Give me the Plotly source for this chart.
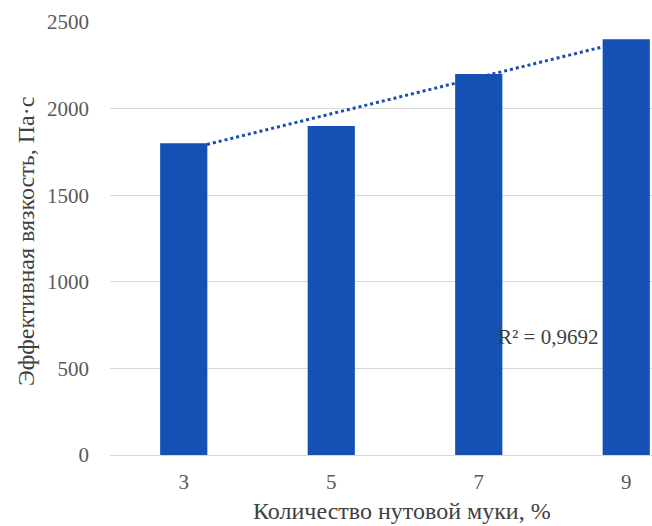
import plotly.graph_objects as go
import numpy as np

categories = ["3", "5", "7", "9"]
values = [1800, 1900, 2200, 2400]
y_ticks = [0, 500, 1000, 1500, 2000, 2500]
x_title = "Количество нутовой муки, %"
y_title = "Эффективная вязкость, Па·с"

xpos = list(range(len(categories)))
# linear trendline (Excel-style, on category positions)
xi = np.arange(1, len(values) + 1)
slope, intercept = np.polyfit(xi, values, 1)
fit = slope * xi + intercept
r2 = 1 - np.sum((np.array(values) - fit) ** 2) / np.sum((np.array(values) - np.mean(values)) ** 2)

font_family = "Liberation Serif"

W, H = 652, 526
L, T = 110, 22
ph = 433
B = H - T - ph
R = 0
pw = W - L - R

def px_to_paper(xp, yp):
    return (xp - L) / pw, (H - B - yp) / ph

fig = go.Figure()
fig.add_trace(go.Bar(x=xpos, y=values, width=0.32, marker_color="#1550b4",
                     marker_line_width=0, showlegend=False))
fig.add_trace(go.Scatter(x=xpos, y=fit, mode="lines",
                         line=dict(color="#1a4fb0", width=3, dash="dot"),
                         showlegend=False))
fig.add_annotation(x=2.47, y=680, xref="x", yref="y", xanchor="center", yanchor="middle",
                   text="R² = " + f"{r2:.4f}".replace(".", ","),
                   showarrow=False, font=dict(family=font_family, size=21, color="#404040"))
yx, yy = px_to_paper(26, 242)
fig.add_annotation(x=yx, y=yy, xref="paper", yref="paper", text=y_title,
                   xanchor="center", yanchor="middle",
                   showarrow=False, textangle=-90,
                   font=dict(family=font_family, size=24, color="#404040"))
xx, xy = px_to_paper(402, 511)
fig.add_annotation(x=xx, y=xy, xref="paper", yref="paper", text=x_title, showarrow=False,
                   xanchor="center", yanchor="middle",
                   font=dict(family=font_family, size=24, color="#404040"))

fig.update_layout(
    width=W, height=H,
    margin=dict(l=L, r=R, t=T, b=B),
    paper_bgcolor="white", plot_bgcolor="white",
    font=dict(family=font_family, color="#595959"),
)
fig.update_xaxes(range=[-0.5, pw / 147.5 - 0.5], tickvals=xpos, ticktext=categories,
                 showgrid=False, showline=False, zeroline=False, automargin=False,
                 tickfont=dict(family=font_family, size=21, color="#595959"), ticks="",
                 ticklabelstandoff=12)
fig.update_yaxes(range=[0, 2500], tickvals=y_ticks, showgrid=True,
                 gridcolor="#d9d9d9", gridwidth=1.3, zeroline=True, zerolinecolor="#d9d9d9",
                 zerolinewidth=1.3, showline=False, automargin=False,
                 tickfont=dict(family=font_family, size=21, color="#595959"), ticks="",
                 ticklabelstandoff=20)

fig.write_html("out.html", config={"displayModeBar": False},
               post_script="document.body.style.margin='0';document.body.style.overflow='hidden';")
